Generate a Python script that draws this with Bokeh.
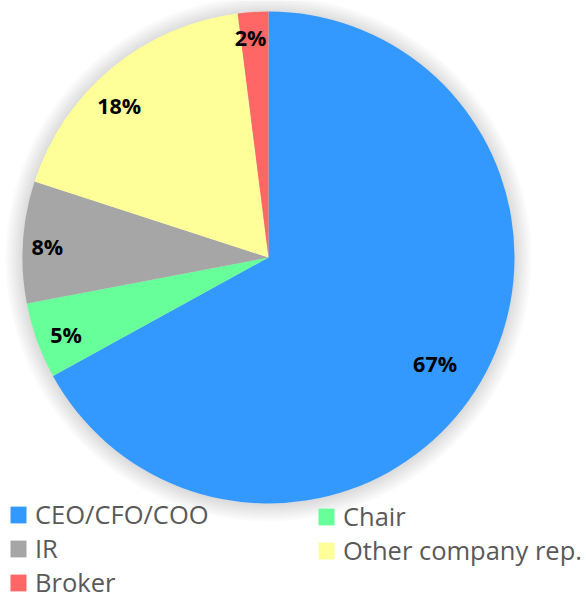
import numpy as np
from bokeh.plotting import figure
from bokeh.models import ColumnDataSource, Legend, LegendItem
from bokeh.core.properties import value
from bokeh.embed import file_html
from bokeh.resources import INLINE

# ---- data ----
categories = ["CEO/CFO/COO", "Chair", "IR", "Other company rep.", "Broker"]
shares = [67, 5, 8, 18, 2]
pct_labels = ["67%", "5%", "8%", "18%", "2%"]
colors = ["#3399FF", "#66FF99", "#A6A6A6", "#FFFF99", "#FF6666"]

# ---- layout ----
W, H = 586, 599
cx, cy, R = 268, 342, 246
label_r = [0.806, 0.884, 0.90, 0.86, 0.89]          # label radius (fraction of R)
label_shift_deg = [2.25, -1.6, -1.3, -5.3, -1.1]    # clockwise nudge from mid-angle

frac = np.array(shares, dtype=float) / sum(shares)
ends = np.cumsum(frac)
starts = ends - frac
start_angle = np.pi / 2 - ends * 2 * np.pi
end_angle = np.pi / 2 - starts * 2 * np.pi
mid = (start_angle + end_angle) / 2 - np.radians(label_shift_deg)
lx = cx + R * np.array(label_r) * np.cos(mid)
ly = cy + R * np.array(label_r) * np.sin(mid)

src = ColumnDataSource(dict(cat=categories, start=start_angle, end=end_angle,
                            color=colors, lx=lx, ly=ly, lab=pct_labels))

p = figure(width=W, height=H, x_range=(0, W), y_range=(0, H),
           output_backend="svg", toolbar_location=None,
           x_axis_location=None, y_axis_location=None,
           min_border=0, outline_line_color=None)
p.grid.visible = False
p.background_fill_color = "white"
p.border_fill_color = "white"

# soft shadow around the pie
for k in range(1, 18, 2):
    p.circle(x=cx, y=cy - 1, radius=R + k, fill_color="black", fill_alpha=0.016,
             line_color=None)

r = p.wedge(x="x", y="y", radius=R, start_angle="start", end_angle="end",
            direction="anticlock", fill_color="color", line_color=None,
            source=ColumnDataSource(dict(x=[cx]*5, y=[cy]*5, start=start_angle,
                                         end=end_angle, color=colors)))

p.text(x="lx", y="ly", text="lab", source=src, text_align="center",
       text_baseline="middle", y_offset=-2, text_font=value("Open Sans"),
       text_font_style="bold", text_font_size="21.5px", text_color="black")

def make_legend(idx, loc):
    leg = Legend(items=[LegendItem(label=categories[i], renderers=[r], index=i) for i in idx],
                 location=loc, orientation="vertical",
                 label_text_font="Open Sans", label_text_font_size="25.5px",
                 label_text_color="#595959", glyph_width=20, glyph_height=21,
                 label_standoff=7, spacing=-3, padding=0, margin=0,
                 border_line_color=None, background_fill_alpha=0)
    return leg

p.add_layout(make_legend([0, 2, 4], (8, 0)))
p.add_layout(make_legend([1, 3], (316, 32)))

open("out.html", "w").write(file_html(p, INLINE))
